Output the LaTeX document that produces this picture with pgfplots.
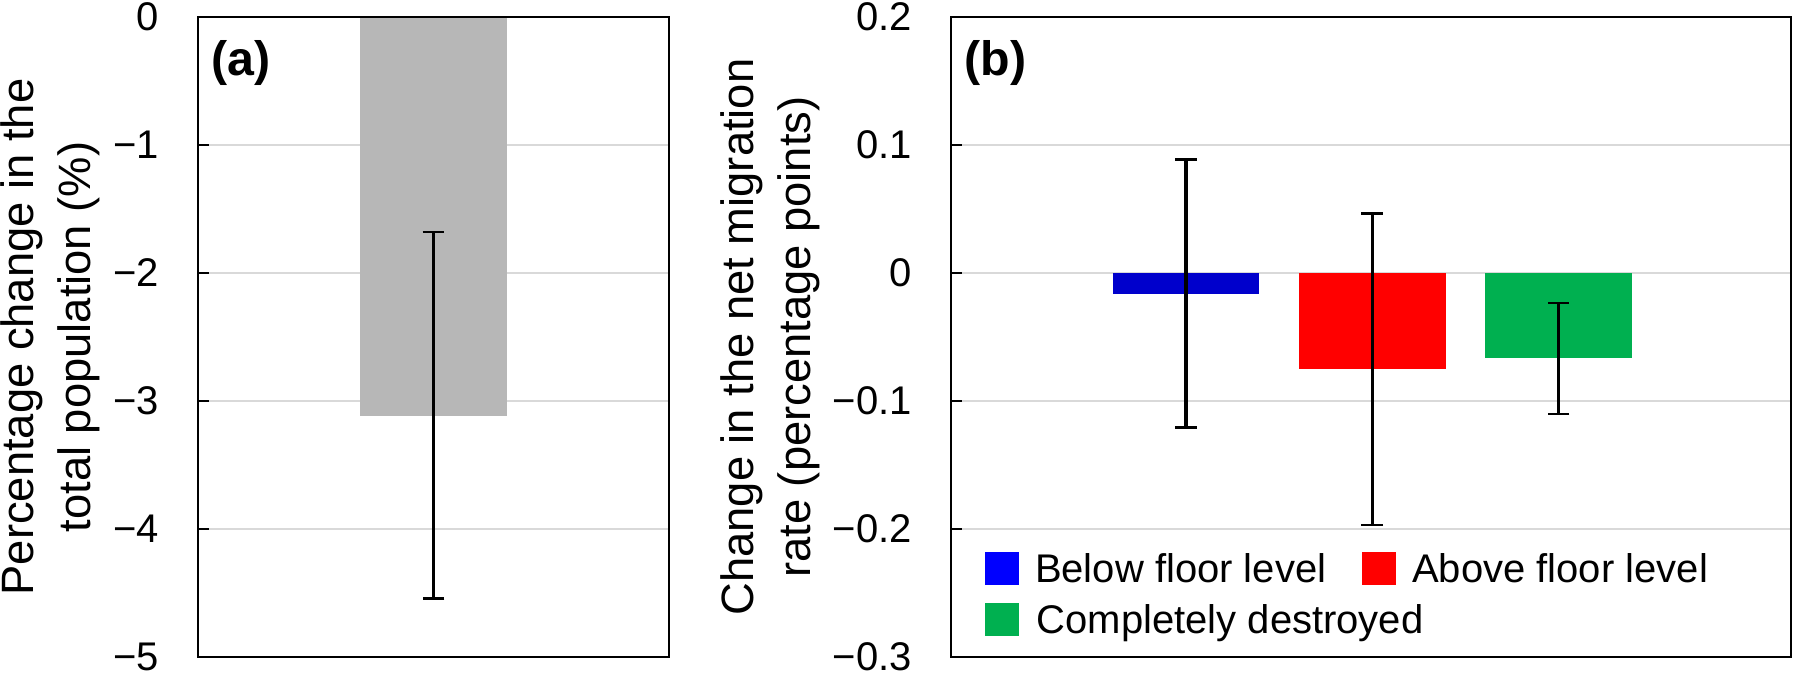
\documentclass[border=0pt]{standalone}
\usepackage{fontspec}
\setmainfont{Liberation Sans}
\usepackage{pgfplots}
\pgfplotsset{compat=1.18}
\definecolor{barGray}{HTML}{B7B7B7}
\definecolor{barBlue}{HTML}{0000CC}
\definecolor{legBlue}{HTML}{0000FF}
\definecolor{barRed}{HTML}{FF0000}
\definecolor{barGreen}{HTML}{00B050}
\definecolor{gridGray}{HTML}{D9D9D9}
\pgfplotsset{
  common/.style={
    scale only axis, height=192pt,
    axis line style={line width=0.8pt, black},
    xtick=\empty,
    ytick pos=left, tick align=inside, major tick length=3.2pt,
    tick style={line width=0.8pt, black},
    ymajorgrids, grid style={line width=0.85pt, gridGray},
    yticklabel style={font=\fontsize{12}{14}\selectfont, inner sep=0pt, xshift=-11.6pt},
    ylabel style={font=\fontsize{13.6}{17}\selectfont, align=center, inner sep=0pt, anchor=north},
    after end axis/.code={\draw[line width=0.8pt, black] (rel axis cs:0,0) rectangle (rel axis cs:1,1);},
  },
  ebars/.style={error bars/.cd, y dir=both, y explicit,
    error bar style={line width=0.95pt, black},
    error mark options={rotate=90, line width=0.85pt, black, mark size=3.25pt},
    /pgfplots/.cd},
}
\begin{document}
\begin{tikzpicture}
\useasboundingbox (-59.4pt,-4.5pt) rectangle (478.8pt,197.1pt);
% Panel (a)
\begin{axis}[common, at={(0pt,0pt)}, anchor=south west,
  width=141.3pt, xmin=-1, xmax=1, ymin=-5, ymax=0,
  ytick={-5,-4,-3,-2,-1,0}, yticklabels={−5,−4,−3,−2,−1,0},
  ylabel={Percentage change in the\\total population (\%)},
  ylabel style={at={(axis description cs:-0.4204,0.5)}},
]
\addplot[ybar, bar width=44.1pt, bar shift=0pt, fill=barGray, draw=none, ebars]
  coordinates {(0,-3.12) += (0,1.44) -= (0,1.425)};
\node[anchor=north west, inner sep=0pt, font=\bfseries\fontsize{14.5}{17}\selectfont] at (rel axis cs:0.0276,0.964) {(a)};
\end{axis}
% Panel (b)
\begin{axis}[common, at={(225.9pt,0pt)}, anchor=south west,
  width=252pt, xmin=-1.261, xmax=3.247, ymin=-0.3, ymax=0.2,
  ytick={-0.3,-0.2,-0.1,0,0.1,0.2}, yticklabels={−0.3,−0.2,−0.1,0,0.1,0.2},
  ylabel={Change in the net migration\\rate (percentage points)},
  ylabel style={at={(axis description cs:-0.275,0.5)}},
  legend columns=2,
  legend image code/.code={\fill[#1] (0pt,-0.7pt) rectangle (10.2pt,9.3pt);},
  legend style={draw=none, fill=none, inner sep=0pt, outer sep=0pt,
    at={(rel axis cs:0.0405,0.1647)}, anchor=north west,
    font=\fontsize{12}{14}\selectfont, row sep=5.3pt,
    cells={anchor=base west},
    nodes={inner sep=0pt, text depth=0pt},
    /tikz/every odd column/.append style={column sep=4.8pt},
    /tikz/every even column/.append style={column sep=10.8pt}},
]
\addplot[ybar, bar width=44pt, bar shift=0pt, fill=barBlue, draw=none,
  legend image post style={fill=legBlue}, ebars]
  coordinates {(0,-0.0161) += (0,0.1051) -= (0,0.1048)};
\addlegendentry{Below floor level}
\addplot[ybar, bar width=44pt, bar shift=0pt, fill=barRed, draw=none, ebars]
  coordinates {(1,-0.075) += (0,0.1215) -= (0,0.1219)};
\addlegendentry{Above floor level}
\addplot[ybar, bar width=44pt, bar shift=0pt, fill=barGreen, draw=none, ebars]
  coordinates {(2,-0.0667) += (0,0.0433) -= (0,0.0435)};
\addlegendentry{\makebox[0pt][l]{Completely destroyed}}
\node[anchor=north west, inner sep=0pt, font=\bfseries\fontsize{14.5}{17}\selectfont] at (rel axis cs:0.0155,0.964) {(b)};
\end{axis}
\end{tikzpicture}
\end{document}
